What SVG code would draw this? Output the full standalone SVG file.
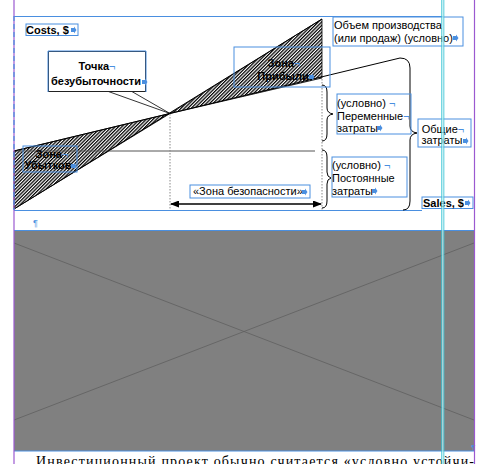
<svg xmlns="http://www.w3.org/2000/svg" width="487" height="464" viewBox="0 0 487 464">
<style>
.t{font-family:"Liberation Sans",Arial,sans-serif;font-size:11px;fill:#000}
.b{font-weight:bold}
.bx{fill:none;stroke:#4a8fe0;stroke-width:1}
.mk{fill:#4a8fe0;font-weight:normal}
.ln{stroke:#000;stroke-width:1;fill:none}
.br{stroke:#000;stroke-width:1;fill:none}
.dot{stroke:#888;stroke-width:1;stroke-dasharray:1.5 1.5;fill:none}
.guide{stroke:#4a8fe0;stroke-width:1}
</style>
<defs>
<pattern id="hatch" width="2.4" height="2.4" patternUnits="userSpaceOnUse" patternTransform="rotate(45)">
<rect width="2.4" height="2.4" fill="#fff"/>
<line x1="0.6" y1="0" x2="0.6" y2="2.4" stroke="#000" stroke-width="1.3"/>
</pattern>
<marker id="ah" markerWidth="9" markerHeight="7" refX="8" refY="3.5" orient="auto-start-reverse" markerUnits="userSpaceOnUse">
<path d="M0,0 L9,3.5 L0,7 Z" fill="#000"/>
</marker>
<path id="em" d="M0,-2 L3,-2 L3,-3.5 L5.5,0 L3,3.5 L3,2 L0,2 Z" fill="#4a8fe0"/>
</defs>
<rect width="487" height="464" fill="#fff"/>

<g id="guides">
<line x1="14" y1="16.5" x2="443" y2="16.5" class="guide"/>
<line x1="14" y1="210.5" x2="422" y2="210.5" class="guide"/>
<line x1="14" y1="230.5" x2="474" y2="230.5" class="guide"/>
</g>

<g id="picture">
<rect x="14" y="231" width="460" height="220" fill="#808080"/>
<line x1="14" y1="243" x2="474" y2="420" stroke="#606060" stroke-width="0.8"/>
<line x1="14" y1="420" x2="474" y2="243" stroke="#606060" stroke-width="0.8"/>
<line x1="14" y1="451" x2="474" y2="451" class="guide"/>
</g>

<g id="zones">
<polygon points="14,151 170,113.5 14,209" fill="url(#hatch)" stroke="#000" stroke-width="0.8"/>
<polygon points="170,113.5 322,19 322,78" fill="url(#hatch)" stroke="#000" stroke-width="0.8"/>
</g>

<g id="connectors">
<line x1="14" y1="151" x2="315" y2="151" stroke="#555" stroke-width="1"/>
<line x1="14" y1="151" x2="400" y2="58" class="ln"/>
<line x1="14" y1="209" x2="322" y2="19" class="ln"/>
<line x1="170" y1="114" x2="170" y2="210" class="dot"/>
<line x1="322" y1="79" x2="322" y2="210" class="dot"/>
<polygon points="107,91 131,91 170,113.5" fill="#fff" stroke="#000" stroke-width="0.8"/>
<line x1="171" y1="204" x2="321" y2="204" stroke="#000" stroke-width="1.3" marker-start="url(#ah)" marker-end="url(#ah)"/>
<path class="br" d="M400,58 Q410,58 410,68 L410,126 Q410,132 417,133 Q410,134 410,140 L410,201 Q410,210 403,210"/>
<path class="br" d="M322,85 Q327,85 327,92 L327,108 Q327,113 333,114 Q327,115 327,120 L327,134 Q327,141 322,141"/>
<path class="br" d="M322,150 Q327,150 327,157 L327,172 Q327,177 331,178 Q327,179 327,184 L327,201 Q327,208 322,208"/>
</g>

<g id="costs">
<rect class="bx" x="26" y="24" width="52" height="11.5"/>
<text class="t b" x="26" y="33.5">Costs, $</text>
<use href="#em" x="71" y="30"/>
</g>

<g id="breakeven">
<rect x="48.5" y="51.5" width="97" height="40" fill="#fff" stroke="#222" stroke-width="1"/>
<path d="M48,92 L48,51 L146,51 L146,92" fill="none" stroke="#4a8fe0" stroke-width="1"/>
<text class="t b" x="97" y="70" text-anchor="middle">Точка<tspan class="mk">¬</tspan></text>
<text class="t b" x="96" y="85" text-anchor="middle">безубыточности</text>
<use href="#em" x="142" y="82"/>
</g>

<g id="profit">
<rect class="bx" x="234" y="47" width="96" height="40"/>
<text class="t b" x="284" y="67" text-anchor="middle">Зона<tspan class="mk">¬</tspan></text>
<text class="t b" x="283" y="80" text-anchor="middle">Прибыли</text>
<use href="#em" x="309" y="77"/>
</g>

<g id="loss">
<rect class="bx" x="23" y="146" width="54" height="26"/>
<text class="t b" x="52" y="158" text-anchor="middle">Зона<tspan class="mk">¬</tspan></text>
<text class="t b" x="48" y="169" text-anchor="middle">Убытков</text>
<use href="#em" x="71" y="166"/>
</g>

<g id="volume">
<rect class="bx" x="333" y="17" width="130" height="29"/>
<text class="t" x="334" y="29">Объем производства</text>
<text class="t" x="334" y="42">(или продаж) (условно)</text>
<use href="#em" x="453" y="38"/>
</g>

<g id="variable">
<rect class="bx" x="337" y="94" width="74" height="40"/>
<text class="t" x="337" y="107">(условно)<tspan class="mk"> ¬</tspan></text>
<text class="t" x="337" y="120">Переменные<tspan class="mk">¬</tspan></text>
<text class="t" x="337" y="132">затраты</text>
<use href="#em" x="377" y="128"/>
</g>

<g id="total">
<rect class="bx" x="418" y="119" width="53" height="28"/>
<text class="t" x="443" y="133" text-anchor="middle">Общие<tspan class="mk">¬</tspan></text>
<text class="t" x="442" y="144" text-anchor="middle">затраты</text>
<use href="#em" x="463" y="141"/>
</g>

<g id="fixed">
<rect class="bx" x="332" y="157" width="75" height="40"/>
<text class="t" x="332" y="169">(условно)<tspan class="mk"> ¬</tspan></text>
<text class="t" x="332" y="182">Постоянные</text>
<text class="t" x="332" y="195">затраты</text>
<use href="#em" x="372" y="191"/>
</g>

<g id="safety">
<rect class="bx" x="190" y="185" width="120" height="13"/>
<text class="t" x="193" y="195" font-size="10.5">«Зона безопасности»</text>
<use href="#em" x="302" y="192"/>
</g>

<g id="sales">
<rect class="bx" x="422" y="197" width="51" height="11.5"/>
<text class="t b" x="423" y="206.5">Sales, $</text>
<use href="#em" x="465" y="203"/>
</g>

<text x="33" y="226" font-family="Liberation Sans,Arial,sans-serif" font-size="9" fill="#4a8fe0">¶</text>
<text x="471" y="450" font-family="Liberation Sans,Arial,sans-serif" font-size="8" fill="#4a8fe0">¶</text>

<text x="36" y="466" font-family="Liberation Serif,'Times New Roman',serif" font-size="14" fill="#000" textLength="438" lengthAdjust="spacing">Инвестиционный проект обычно считается «условно устойчи-</text>

<g id="margins">
<line x1="14" y1="0" x2="14" y2="464" stroke="#9b59d0" stroke-width="1.2"/>
<line x1="14" y1="16" x2="14" y2="210" stroke="#4a8fe0" stroke-width="1.2" stroke-dasharray="5 3"/>
<line x1="474.5" y1="0" x2="474.5" y2="464" stroke="#9b59d0" stroke-width="1.2"/>
<line x1="441.8" y1="0" x2="441.8" y2="464" stroke="#3cc4d4" stroke-width="1"/>
<line x1="443.8" y1="0" x2="443.8" y2="464" stroke="#3cc4d4" stroke-width="1"/>
<line x1="442.8" y1="0" x2="442.8" y2="464" stroke="#bfeff3" stroke-width="1"/>
</g>
</svg>
